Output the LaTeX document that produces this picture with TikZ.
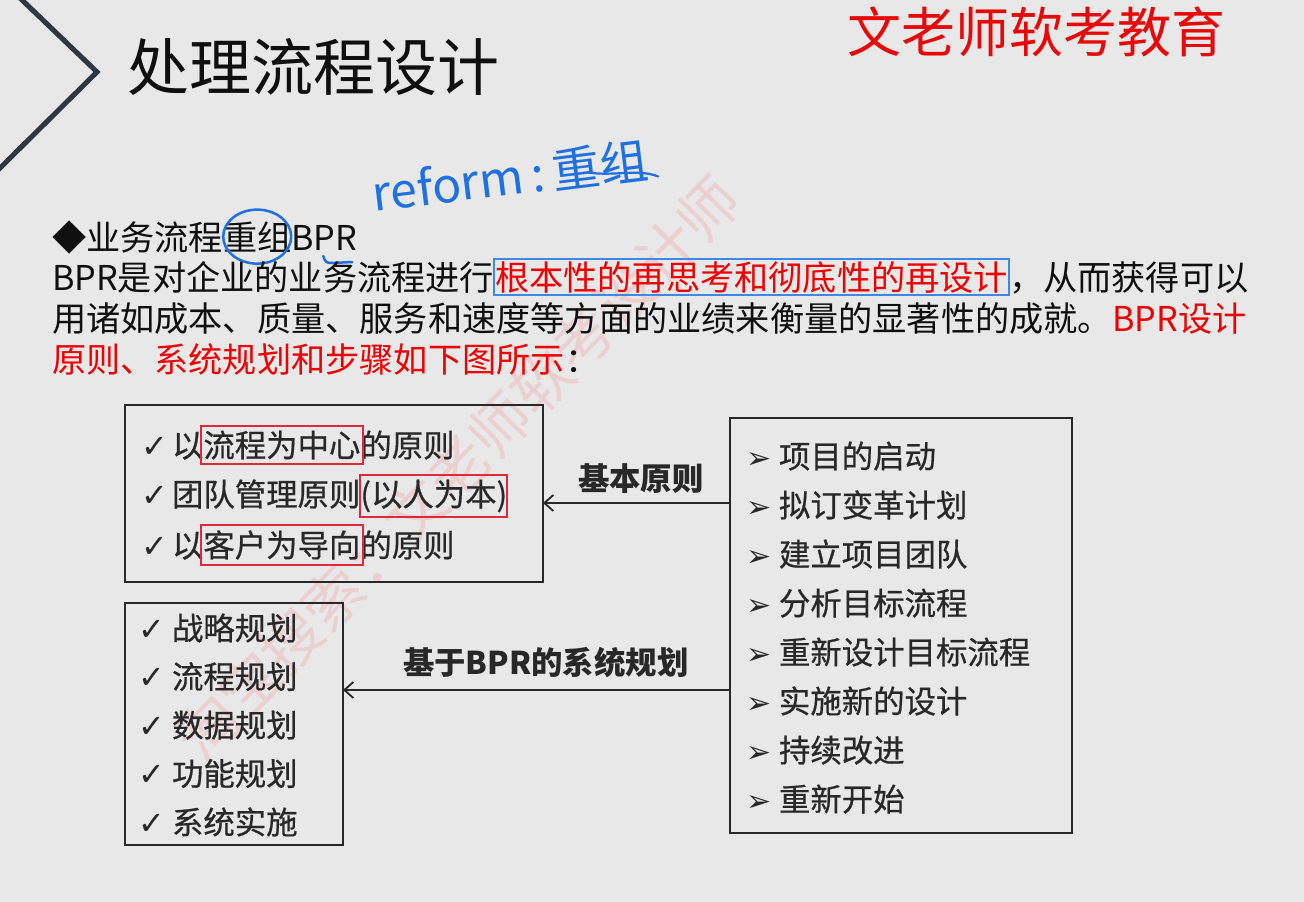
\documentclass[tikz,border=0pt]{standalone}
\usepackage{fontspec}
\setmainfont{Noto Sans CJK SC}
\newfontfamily\symf{DejaVu Sans}
\newfontfamily\scanf{Noto Sans CJK SC}[FakeBold=0.6]
\usetikzlibrary{arrows.meta,fit,shapes.geometric}
\definecolor{bg}{RGB}{232,232,232}
\definecolor{ink}{RGB}{15,15,15}
\definecolor{hdred}{RGB}{232,8,8}
\definecolor{txtred}{RGB}{240,0,0}
\definecolor{pen}{RGB}{30,112,228}
\definecolor{rectblue}{RGB}{62,136,230}
\definecolor{boxred}{RGB}{226,40,60}
\definecolor{scan}{RGB}{40,40,40}
\definecolor{wm}{RGB}{236,208,208}
\definecolor{chev}{RGB}{45,55,70}
\begin{document}
\begin{tikzpicture}[x=1pt,y=-1pt,
  every node/.style={inner sep=0pt, outer sep=0pt, text=ink},
  para/.style={anchor=base west, font=\fontsize{34.2}{40}\selectfont},
  item/.style={anchor=base west, font=\scanf\fontsize{31.4}{36}\selectfont, text=scan},
  lbl/.style={anchor=base west, font=\fontsize{31.4}{36}\selectfont\bfseries, text=scan},
  chk/.style={anchor=base west, font=\symf\fontsize{32}{36}\selectfont, text=scan},
  tri/.style={anchor=base west, font=\symf\fontsize{30}{36}\selectfont, text=scan},
  box/.style={draw=scan, line width=1.8pt, anchor=north west},
  redbox/.style={draw=boxred, line width=2pt, inner xsep=2.5pt, inner ysep=5pt},
  arr/.style={draw=scan, line width=1.8pt, -{Straight Barb[length=9pt,width=16pt,line width=1.8pt]}}
]
\useasboundingbox (0,0) rectangle (1304,902);
\fill[bg] (0,0) rectangle (1304,902);

% watermark
\node[rotate=46, font=\fontsize{60}{60}\selectfont, text=wm] (wmk) at (458,468) {淘宝搜索：文老师软考设计师};

% chevron
\coordinate (ch1) at (20,-2);
\coordinate (ch2) at (97,72);
\coordinate (ch3) at (-2,170);
\draw[chev, line width=5pt, line join=miter] (ch1) -- (ch2) -- (ch3);

% title and header
\node[anchor=base west, font=\fontsize{62}{70}\selectfont] (title) at (127,90) {处理流程设计};
\node[anchor=base west, font=\fontsize{54}{60}\selectfont, text=hdred] (brand) at (847,52) {文老师软考教育};

% handwriting
\node[rotate=7, font=\fontsize{48}{52}\selectfont, text=pen] (hw) at (510,176) {reform\,:\,重组};
\draw[pen, line width=2.2pt, line cap=round] (hw.south east) ++(-62,-8) .. controls +(25,4) and +(-20,-8) .. ++(70,4);

% paragraph line 1
\node[para] (l1a) at (52,250) {◆业务流程};
\node[para] (l1b) at (l1a.base east) {重组};
\node[para] (l1c) at (l1b.base east) {BPR};
\draw[pen, line width=2.5pt] (l1b.center) ellipse [x radius=34, y radius=27];
\draw[pen, line width=2.5pt, line cap=round] (l1c.base east) ++(-34,6) .. controls +(2,6) and +(-6,0) .. ++(9,7) -- ++(20,-1);

% line 2
\node[para] (l2a) at (52,290) {BPR是对企业的业务流程进行};
\node[para, text=txtred, draw=rectblue, line width=2pt, inner xsep=1pt, inner ysep=2pt] (l2b) at (l2a.base east) {根本性的再思考和彻底性的再设计};
\node[para] (l2c) at (l2b.base east) {，从而获得可以};

% line 3
\node[para] (l3a) at (52,331) {用诸如成本、质量、服务和速度等方面的业绩来衡量的显著性的成就。};
\node[para, text=txtred] (l3b) at (l3a.base east) {BPR设计};

% line 4
\node[para, text=txtred] (l4a) at (52,372) {原则、系统规划和步骤如下图所示};
\node[para] (l4b) at (l4a.base east) {：};

% boxes
\node[box, minimum width=418, minimum height=177] (A) at (125,405) {};
\node[box, minimum width=218, minimum height=242] (B) at (125,603) {};
\node[box, minimum width=342, minimum height=415] (C) at (730,418) {};

% box A items
\node[chk] (a1k) at (141,457) {✓};
\node[item] (a1a) at (172,457) {以};
\node[item] (a1b) at (a1a.base east) {流程为中心};
\node[item] (a1c) at (a1b.base east) {的原则};
\node[chk] (a2k) at (141,506) {✓};
\node[item] (a2a) at (172,506) {团队管理原则};
\node[item] (a2b) at (a2a.base east) {(以人为本)};
\node[chk] (a3k) at (141,557) {✓};
\node[item] (a3a) at (172,557) {以};
\node[item] (a3b) at (a3a.base east) {客户为导向};
\node[item] (a3c) at (a3b.base east) {的原则};
\node[redbox, fit=(a1b)] (r1) {};
\node[redbox, inner xsep=0pt, fit=(a2b)] (r2) {};
\node[redbox, fit=(a3b)] (r3) {};

% box B items
\foreach \t [count=\i, evaluate=\i as \yy using 640+48.5*(\i-1)] in {战略规划,流程规划,数据规划,功能规划,系统实施}{
  \node[chk] (bk\i) at (138,\yy) {✓};
  \node[item] (b\i) at (172,\yy) {\t};
}

% box C items
\foreach \t [count=\i, evaluate=\i as \yy using 468+49*(\i-1)] in {项目的启动,拟订变革计划,建立项目团队,分析目标流程,重新设计目标流程,实施新的设计,持续改进,重新开始}{
  \node[tri] (ck\i) at (746,\yy) {➢};
  \node[item] (c\i) at (779,\yy) {\t};
}

% arrows
\coordinate (y1) at (0,503);
\coordinate (y2) at (0,690);
\draw[arr] (C.west |- y1) -- (A.east |- y1);
\draw[arr] (C.west |- y2) -- (B.east |- y2);
\node[lbl] (lab1) at (578,490) {基本原则};
\node[lbl] (lab2) at (403,674) {基于BPR的系统规划};
\end{tikzpicture}
\end{document}
